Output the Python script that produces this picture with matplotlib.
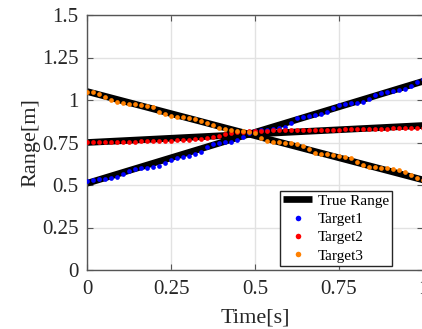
import matplotlib
matplotlib.use("Agg")
import matplotlib.pyplot as plt

# ---- data ----
time = [0.0000, 0.0179, 0.0357, 0.0536, 0.0714, 0.0893, 0.1071, 0.1250, 0.1429, 0.1607,
        0.1786, 0.1964, 0.2143, 0.2321, 0.2500, 0.2679, 0.2857, 0.3036, 0.3214, 0.3393,
        0.3571, 0.3750, 0.3929, 0.4107, 0.4286, 0.4464, 0.4643, 0.4821, 0.5000, 0.5179,
        0.5357, 0.5536, 0.5714, 0.5893, 0.6071, 0.6250, 0.6429, 0.6607, 0.6786, 0.6964,
        0.7143, 0.7321, 0.7500, 0.7679, 0.7857, 0.8036, 0.8214, 0.8393, 0.8571, 0.8750,
        0.8929, 0.9107, 0.9286, 0.9464, 0.9643, 0.9821, 1.0000]

target1 = [0.524, 0.529, 0.533, 0.535, 0.539, 0.549, 0.563, 0.582, 0.592, 0.598,
           0.602, 0.604, 0.612, 0.631, 0.647, 0.657, 0.667, 0.671, 0.682, 0.696,
           0.726, 0.741, 0.749, 0.753, 0.755, 0.765, 0.784, 0.804, 0.820, 0.824,
           0.826, 0.829, 0.833, 0.843, 0.867, 0.892, 0.900, 0.904, 0.912, 0.918,
           0.931, 0.955, 0.971, 0.976, 0.980, 0.984, 0.988, 1.004, 1.029, 1.043,
           1.049, 1.055, 1.059, 1.063, 1.082, 1.108, 1.122]

target2 = [0.753, 0.753, 0.753, 0.753, 0.754, 0.754, 0.754, 0.755, 0.755, 0.756,
           0.757, 0.757, 0.758, 0.759, 0.760, 0.762, 0.764, 0.766, 0.769, 0.773,
           0.775, 0.780, 0.788, 0.798, 0.804, 0.810, 0.814, 0.818, 0.820, 0.820,
           0.820, 0.821, 0.821, 0.821, 0.822, 0.822, 0.823, 0.823, 0.824, 0.824,
           0.825, 0.826, 0.826, 0.827, 0.828, 0.828, 0.829, 0.830, 0.831, 0.831,
           0.832, 0.833, 0.834, 0.835, 0.835, 0.836, 0.837]

target3 = [1.049, 1.045, 1.035, 1.020, 1.000, 0.986, 0.980, 0.976, 0.975, 0.971,
           0.967, 0.961, 0.931, 0.916, 0.908, 0.902, 0.898, 0.892, 0.886, 0.878,
           0.867, 0.853, 0.837, 0.827, 0.824, 0.820, 0.818, 0.814, 0.804, 0.775,
           0.759, 0.755, 0.751, 0.749, 0.745, 0.740, 0.730, 0.710, 0.690, 0.682,
           0.680, 0.676, 0.672, 0.667, 0.657, 0.637, 0.618, 0.608, 0.604, 0.602,
           0.598, 0.592, 0.588, 0.579, 0.559, 0.539, 0.529]

true_time = [0.0, 1.0]
true1 = [0.51, 1.11]
true2 = [0.75, 0.85]
true3 = [1.05, 0.53]

xticks = [0, 0.25, 0.5, 0.75, 1]
xticklabels = ["0", "0.25", "0.5", "0.75", "1"]
yticks = [0, 0.25, 0.5, 0.75, 1, 1.25, 1.5]
yticklabels = ["0", "0.25", "0.5", "0.75", "1", "1.25", "1.5"]

# ---- figure ----
plt.rcParams['font.family'] = ['Liberation Serif', 'DejaVu Serif']
fig = plt.figure(figsize=(4.22, 3.29), dpi=100)
ax = fig.add_axes([87/422, 1 - 270/329, 336/422, 255/329])

lw_true = 4.8
ax.plot(true_time, true1, color='black', lw=lw_true, solid_capstyle='butt', label='True Range', zorder=2)
ax.plot(true_time, true2, color='black', lw=lw_true, solid_capstyle='butt', zorder=2)
ax.plot(true_time, true3, color='black', lw=lw_true, solid_capstyle='butt', zorder=2)

ms = 3.4
ax.plot(time, target1, 'o', color='#0000FF', ms=ms, mew=0, label='Target1', zorder=3)
ax.plot(time, target2, 'o', color='#FF0000', ms=ms, mew=0, label='Target2', zorder=3)
ax.plot(time, target3, 'o', color='#FF8000', ms=ms, mew=0, label='Target3', zorder=3)

ax.set_xlim(0, 1)
ax.set_ylim(0, 1.5)
ax.set_xticks(xticks)
ax.set_xticklabels(xticklabels)
ax.set_yticks(yticks)
ax.set_yticklabels(yticklabels)

ax.grid(True, color='#e2e2e2', lw=1.0)
ax.set_axisbelow(True)
for s in ax.spines.values():
    s.set_color('#555555')
    s.set_linewidth(1.0)
ax.tick_params(direction='in', length=4, width=0.8, color='#555555',
               top=True, right=True, labelsize=15, labelcolor='#262626')
ax.tick_params(axis='x', pad=7)
ax.tick_params(axis='y', pad=6)

ax.set_xlabel('Time[s]', fontsize=16, color='#262626', labelpad=7)
ax.set_ylabel('Range[m]', fontsize=16, color='#262626', labelpad=1)

leg = ax.legend(loc='lower right', bbox_to_anchor=(0.908, 0.016), fontsize=11,
                frameon=True, fancybox=False, framealpha=1, edgecolor='#262626',
                numpoints=1, handlelength=1.9, handletextpad=0.35, labelspacing=0.3,
                borderpad=0.22, borderaxespad=0.0)
leg.get_frame().set_linewidth(1.0)
for line in leg.get_lines()[1:]:
    line.set_markersize(4)

fig.savefig('out.png', dpi=100)
